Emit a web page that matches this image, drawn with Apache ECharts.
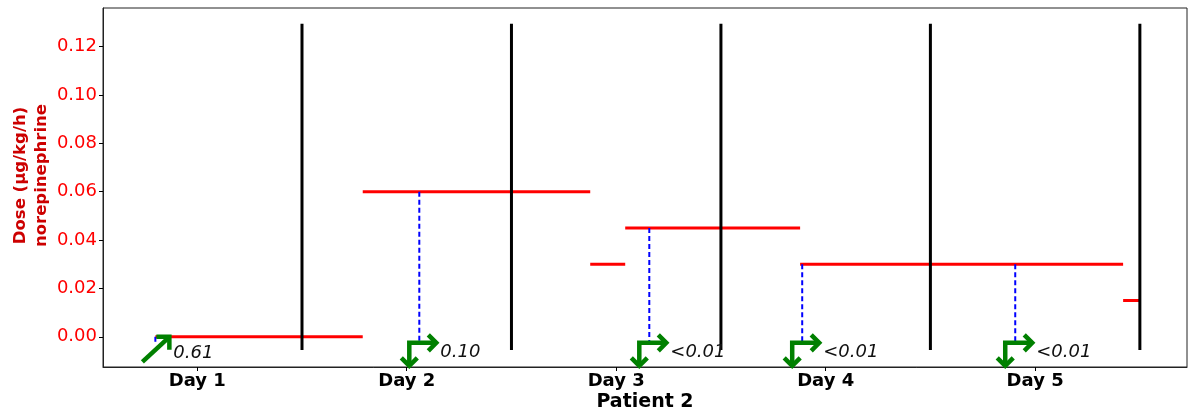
<!DOCTYPE html>
<html>
<head>
<meta charset="utf-8">
<script src="https://cdn.jsdelivr.net/npm/echarts@6/dist/echarts.min.js"></script>
<style>
  html, body { margin: 0; padding: 0; background: #fff; }
  #chart { width: 1189px; height: 417px; }
</style>
</head>
<body>
<div id="chart"></div>
<script>
// Axis ticks
const dayTicks = [1, 2, 3, 4, 5];
const dayLabels = ['Day 1', 'Day 2', 'Day 3', 'Day 4', 'Day 5'];
const doseTicks = [0, 0.02, 0.04, 0.06, 0.08, 0.10, 0.12];

// Infusion periods (time in days) and norepinephrine dose
const doseStart = [0.80, 1.79, 2.876, 3.043, 3.878, 5.42];
const doseEnd   = [1.79, 2.876, 3.043, 3.878, 5.42, 5.50];
const doseValue = [0.000, 0.060, 0.030, 0.045, 0.030, 0.015];

// Day boundaries (midnight markers)
const dayBounds = [1.5, 2.5, 3.5, 4.5, 5.5];
const boundLow = -0.0055;
const boundHigh = 0.1295;

// Lab samples: time, dose at sampling time, reported value, trend
const sampleTime  = [0.80, 2.06, 3.158, 3.888, 4.905];
const sampleDose  = [0.000, 0.060, 0.045, 0.030, 0.030];
const sampleText  = ['0.61', '0.10', '<0.01', '<0.01', '<0.01'];
const sampleTrend = ['up', 'down', 'down', 'down', 'down'];
const sampleBase  = -0.0025;

const FONT = '"DejaVu Sans", sans-serif';
const GREEN = '#008000';

const chart = echarts.init(document.getElementById('chart'), null, { renderer: 'canvas' });

function segmentItem(params, api) {
  const a = api.coord([api.value(0), api.value(2)]);
  const b = api.coord([api.value(1), api.value(2)]);
  return {
    type: 'line',
    shape: { x1: a[0], y1: a[1], x2: b[0], y2: b[1] },
    style: { stroke: '#ff0000', lineWidth: 3 }
  };
}

function boundItem(params, api) {
  const a = api.coord([api.value(0), boundLow]);
  const b = api.coord([api.value(0), boundHigh]);
  return {
    type: 'line',
    shape: { x1: a[0], y1: a[1], x2: b[0], y2: b[1] },
    style: { stroke: '#000', lineWidth: 3 }
  };
}

function dropItem(params, api) {
  const a = api.coord([api.value(0), api.value(1)]);
  const b = api.coord([api.value(0), sampleBase]);
  return {
    type: 'line',
    shape: { x1: a[0], y1: a[1], x2: b[0], y2: b[1] },
    style: { stroke: '#0000ff', lineWidth: 2, lineDash: [5, 3] }
  };
}

function arrowStyle() {
  return { stroke: GREEN, lineWidth: 4.5, fill: null, lineJoin: 'miter', lineCap: 'butt' };
}

function noteItem(params, api) {
  const i = params.dataIndex;
  const x = api.value(0);
  const children = [];
  const textStyle = (tx, ty) => ({
    type: 'text',
    style: {
      text: sampleText[i], x: tx, y: ty,
      font: 'italic 18px ' + FONT, fill: '#111',
      align: 'left', verticalAlign: 'middle'
    }
  });
  if (sampleTrend[i] === 'up') {
    const p = api.coord([x, api.value(1)]);
    const tip = [p[0] + 14, p[1]];
    children.push({ type: 'line', shape: { x1: p[0] - 13, y1: p[1] + 25, x2: tip[0] - 1, y2: tip[1] + 1 }, style: arrowStyle() });
    children.push({ type: 'polyline', shape: { points: [[tip[0] - 13, tip[1]], tip, [tip[0], tip[1] + 13]] }, style: arrowStyle() });
    children.push(textStyle(tip[0] + 4, p[1] + 17));
  } else {
    const p = api.coord([x, sampleBase]);
    const cx = p[0] - 10;
    const tipX = p[0] + 17;
    const bottom = p[1] + 23;
    const w = 8;
    children.push({ type: 'polyline', shape: { points: [[cx, bottom - 1], [cx, p[1]], [tipX - 1, p[1]]] }, style: arrowStyle() });
    children.push({ type: 'polyline', shape: { points: [[tipX - w, p[1] - w], [tipX, p[1]], [tipX - w, p[1] + w]] }, style: arrowStyle() });
    children.push({ type: 'polyline', shape: { points: [[cx - w, bottom - w], [cx, bottom], [cx + w, bottom - w]] }, style: arrowStyle() });
    children.push(textStyle(tipX + 4, p[1] + 10));
  }
  return { type: 'group', children };
}

const option = {
  animation: false,
  backgroundColor: '#fff',
  grid: {
    left: 103, right: 2, top: 8, bottom: 50,
    show: true, borderColor: '#222', borderWidth: 1,
    outerBoundsMode: 'none'
  },
  xAxis: {
    type: 'value', min: 0.55, max: 5.725,
    axisLine: { show: true, onZero: false, lineStyle: { color: '#222', width: 1 } },
    splitLine: { show: false },
    axisTick: { show: true, customValues: dayTicks, length: 4, lineStyle: { color: '#000' } },
    axisLabel: {
      customValues: dayTicks,
      formatter: v => dayLabels[dayTicks.indexOf(v)],
      fontFamily: FONT, fontWeight: 'bold', fontSize: 18, color: '#000', margin: 5
    },
    name: 'Patient 2', nameLocation: 'middle', nameGap: 26, nameMoveOverlap: false,
    nameTextStyle: { fontFamily: FONT, fontWeight: 'bold', fontSize: 19, color: '#000' }
  },
  yAxis: {
    type: 'value', min: -0.0125, max: 0.136,
    axisLine: { show: true, onZero: false, lineStyle: { color: '#222', width: 1 } },
    splitLine: { show: false },
    axisTick: { show: true, customValues: doseTicks, length: 4, lineStyle: { color: '#000' } },
    axisLabel: {
      customValues: doseTicks,
      formatter: v => v.toFixed(2),
      fontFamily: FONT, fontSize: 18, color: '#ff0000', margin: 6
    },
    name: 'Dose (µg/kg/h)\nnorepinephrine', nameLocation: 'middle', nameGap: 51, nameRotate: 90,
    nameMoveOverlap: false,
    nameTextStyle: {
      fontFamily: FONT, fontWeight: 'bold', fontSize: 16.5, lineHeight: 21,
      color: '#cc0000', padding: [0, 0, 0, 24]
    }
  },
  series: [
    {
      type: 'custom', name: 'dose', z: 2,
      data: doseStart.map((s, i) => [s, doseEnd[i], doseValue[i]]),
      encode: { x: [0, 1], y: 2 },
      renderItem: segmentItem
    },
    {
      type: 'custom', name: 'midnight', z: 3,
      data: dayBounds.map(d => [d]),
      encode: { x: 0 },
      renderItem: boundItem
    },
    {
      type: 'custom', name: 'sample', z: 4,
      data: sampleTime.map((t, i) => [t, sampleDose[i]]),
      encode: { x: 0, y: 1 },
      renderItem: dropItem
    },
    {
      type: 'custom', name: 'result', z: 5,
      data: sampleTime.map((t, i) => [t, sampleDose[i]]),
      encode: { x: 0, y: 1 },
      renderItem: noteItem
    }
  ]
};

chart.setOption(option);
</script>
</body>
</html>
